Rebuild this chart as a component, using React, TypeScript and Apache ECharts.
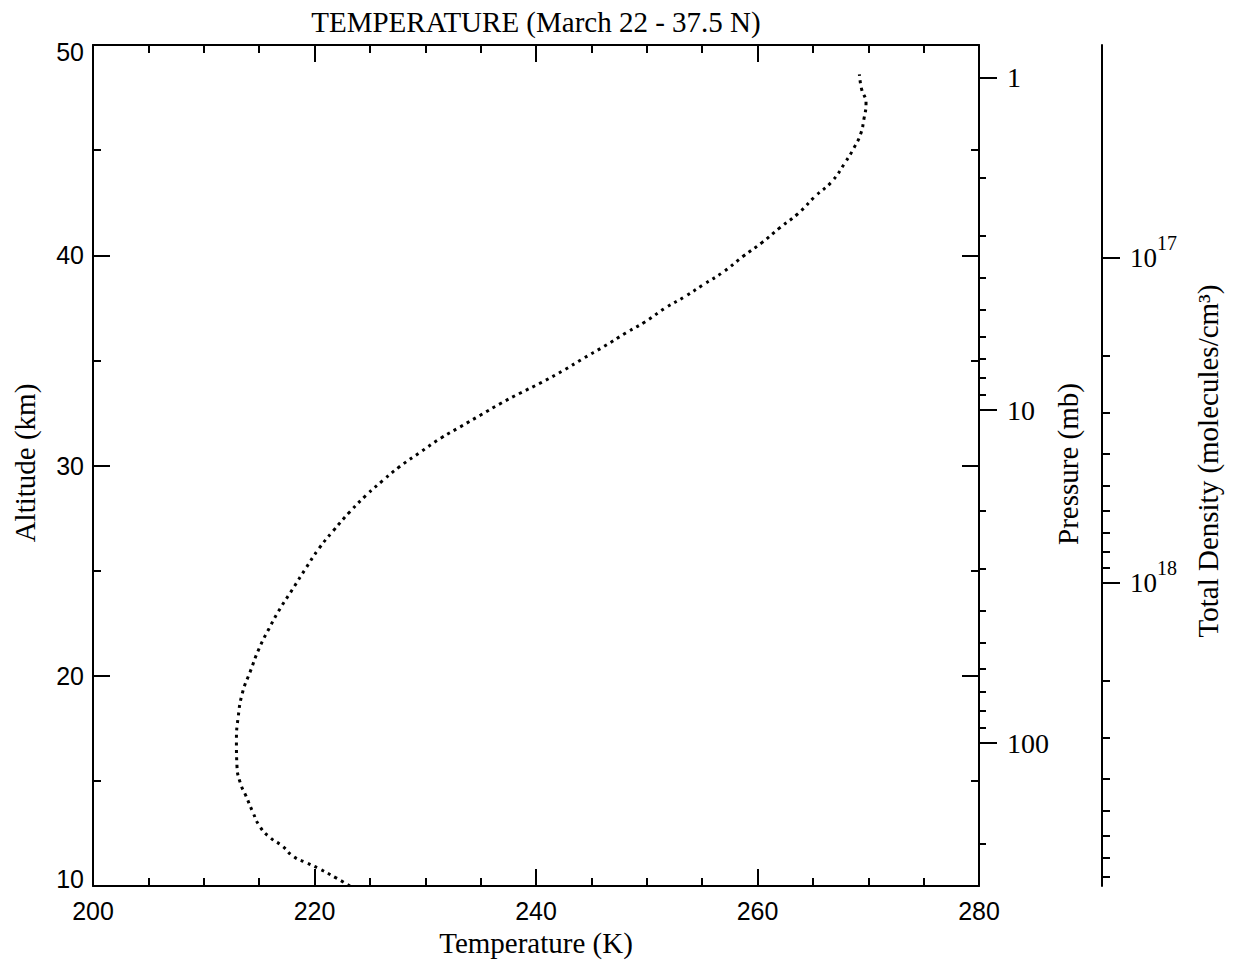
import React, { useEffect, useRef } from "react";
import * as echarts from "echarts";

// ---- Data ----
const altitudeKm = [
  10.0, 10.4, 10.8, 11.1, 11.4, 11.9, 12.3, 12.8, 13.55, 14.3,
  14.9, 15.7, 16.9, 18.0, 19.2, 20.2, 21.3, 22.25, 23.2, 24.1,
  25.1, 26.05, 26.9, 27.8, 28.6, 29.3, 29.95, 30.65, 31.3, 31.85,
  32.4, 32.95, 33.45, 33.95, 34.5, 35.1, 35.65, 36.3, 36.85, 37.5,
  38.05, 38.6, 39.2, 39.95, 40.6, 41.3, 42.0, 42.8, 43.5, 44.4,
  45.1, 45.75, 46.45, 47.25, 47.9, 48.6,
];
const temperatureK = [
  223.2, 221.9, 220.5, 219.3, 218.1, 217.1, 216.0, 215.1, 214.4, 213.8,
  213.3, 213.0, 212.95, 213.1, 213.5, 214.2, 215.0, 215.9, 216.9, 218.0,
  219.2, 220.4, 221.7, 223.2, 224.7, 226.2, 227.7, 229.6, 231.4, 233.2,
  235.0, 236.8, 238.6, 240.5, 242.4, 244.3, 246.1, 248.1, 249.9, 251.7,
  253.5, 255.1, 256.9, 258.7, 260.4, 262.0, 263.7, 265.2, 266.7, 267.9,
  268.7, 269.3, 269.6, 269.8, 269.4, 269.2,
];

const temperatureRange = [200, 280];
const altitudeRange = [10, 50];

const pressureRange = [0.8, 268.8];
const pressureMajor = [1, 10, 100];
const pressureMinor = [2, 3, 4, 5, 6, 7, 8, 9, 20, 30, 40, 50, 60, 70, 80, 90, 200];

const densityRange = [2.21e16, 8.55e18];
const densityMajor = [1e17, 1e18];
const densityMinor = [
  2e17, 3e17, 4e17, 5e17, 6e17, 7e17, 8e17, 9e17,
  2e18, 3e18, 4e18, 5e18, 6e18, 7e18, 8e18,
];

const titleText = "TEMPERATURE (March 22 - 37.5 N)";
const xTitle = "Temperature (K)";
const yTitle = "Altitude (km)";
const pressureTitle = "Pressure (mb)";
const densityTitle = "Total Density (molecules/cm³)";

const SERIF = "'Liberation Serif', 'Times New Roman', serif";
const SANS = "'Liberation Sans', Arial, sans-serif";
const BLACK = "#000";

export default function App() {
  const ref = useRef<HTMLDivElement>(null);

  useEffect(() => {
    if (!ref.current) return;
    const chart = echarts.init(ref.current, undefined, { renderer: "svg" });

    const lineStyle = { color: BLACK, width: 2 };

    const logAxis = (
      range: number[],
      offset: number,
      ticks: number[],
      len: number,
      showLine: boolean,
      labels: boolean,
      formatter: any,
      labelStyle: any
    ) => ({
      type: "value",
      position: "right",
      offset,
      inverse: true,
      min: Math.log10(range[0]),
      max: Math.log10(range[1]),
      axisLine: { show: showLine, onZero: false, lineStyle },
      axisTick: {
        show: true,
        inside: false,
        length: len,
        customValues: ticks.map((v) => Math.log10(v)),
        lineStyle,
      },
      axisLabel: labels
        ? {
            show: true,
            customValues: ticks.map((v) => Math.log10(v)),
            formatter,
            ...labelStyle,
          }
        : { show: false },
      splitLine: { show: false },
    });

    const option: any = {
      animation: false,
      backgroundColor: "#fff",
      grid: { left: 93, top: 45, width: 886, height: 841, containLabel: false },
      xAxis: [
        {
          type: "value",
          position: "bottom",
          min: temperatureRange[0],
          max: temperatureRange[1],
          interval: 20,
          axisLine: { show: true, onZero: false, lineStyle },
          axisTick: { show: true, inside: true, length: 17, lineStyle },
          minorTick: { show: true, splitNumber: 4, length: 8, lineStyle },
          axisLabel: {
            show: true,
            margin: 12,
            color: BLACK,
            fontFamily: SANS,
            fontSize: 25,
          },
          splitLine: { show: false },
        },
        {
          type: "value",
          position: "top",
          min: temperatureRange[0],
          max: temperatureRange[1],
          interval: 20,
          axisLine: { show: true, onZero: false, lineStyle },
          axisTick: { show: true, inside: true, length: 17, lineStyle },
          minorTick: { show: true, splitNumber: 4, length: 8, lineStyle },
          axisLabel: { show: false },
          splitLine: { show: false },
        },
      ],
      yAxis: [
        {
          type: "value",
          position: "left",
          min: altitudeRange[0],
          max: altitudeRange[1],
          interval: 10,
          axisLine: { show: true, onZero: false, lineStyle },
          axisTick: { show: true, inside: true, length: 17, lineStyle },
          minorTick: { show: true, splitNumber: 2, length: 8, lineStyle },
          axisLabel: {
            show: true,
            margin: 9,
            color: BLACK,
            fontFamily: SANS,
            fontSize: 25,
            lineHeight: 14,
            verticalAlignMinLabel: "bottom",
            verticalAlignMaxLabel: "top",
          },
          splitLine: { show: false },
        },
        {
          type: "value",
          position: "right",
          min: altitudeRange[0],
          max: altitudeRange[1],
          interval: 10,
          axisLine: { show: true, onZero: false, lineStyle },
          axisTick: { show: true, inside: true, length: 17, lineStyle },
          minorTick: { show: true, splitNumber: 2, length: 8, lineStyle },
          axisLabel: { show: false },
          splitLine: { show: false },
        },
        logAxis(
          pressureRange,
          0,
          pressureMajor,
          18,
          false,
          true,
          (v: number) => String(Math.round(Math.pow(10, v))),
          { margin: 28, color: BLACK, fontFamily: SERIF, fontSize: 28 }
        ),
        logAxis(pressureRange, 0, pressureMinor, 7, false, false, null, {}),
        logAxis(
          densityRange,
          123,
          densityMajor,
          18,
          true,
          true,
          (v: number) => `{b|10}{s|${Math.round(v)}}`,
          {
            margin: 28,
            color: BLACK,
            rich: {
              b: { fontFamily: SERIF, fontSize: 27, lineHeight: 50, color: BLACK },
              s: {
                fontFamily: SERIF,
                fontSize: 20,
                lineHeight: 20,
                verticalAlign: "top",
                color: BLACK,
              },
            },
          }
        ),
        logAxis(densityRange, 123, densityMinor, 8, false, false, null, {}),
      ],
      series: [
        {
          type: "line",
          xAxisIndex: 0,
          yAxisIndex: 0,
          data: altitudeKm.map((a, i) => [temperatureK[i], a]),
          showSymbol: false,
          symbol: "none",
          smooth: 0.5,
          lineStyle: { color: BLACK, width: 3, type: [3, 4.5] },
          silent: true,
        },
      ],
      graphic: [
        {
          type: "text",
          x: 536,
          y: 22,
          style: {
            text: titleText,
            font: `29px ${SERIF}`,
            fill: BLACK,
            align: "center",
            verticalAlign: "middle",
          },
        },
        {
          type: "text",
          x: 536,
          y: 943,
          style: {
            text: xTitle,
            font: `29px ${SERIF}`,
            fill: BLACK,
            align: "center",
            verticalAlign: "middle",
          },
        },
        {
          type: "text",
          x: 25,
          y: 463,
          rotation: Math.PI / 2,
          style: {
            text: yTitle,
            font: `29px ${SERIF}`,
            fill: BLACK,
            align: "center",
            verticalAlign: "middle",
          },
        },
        {
          type: "text",
          x: 1068,
          y: 464,
          rotation: Math.PI / 2,
          style: {
            text: pressureTitle,
            font: `29px ${SERIF}`,
            fill: BLACK,
            align: "center",
            verticalAlign: "middle",
          },
        },
        {
          type: "text",
          x: 1208,
          y: 461,
          rotation: Math.PI / 2,
          style: {
            text: densityTitle,
            font: `29px ${SERIF}`,
            fill: BLACK,
            align: "center",
            verticalAlign: "middle",
          },
        },
      ],
    };

    chart.setOption(option);
    return () => chart.dispose();
  }, []);

  return (
    <div
      ref={ref}
      style={{ position: "absolute", left: 0, top: 0, width: 1237, height: 970, background: "#fff" }}
    />
  );
}
